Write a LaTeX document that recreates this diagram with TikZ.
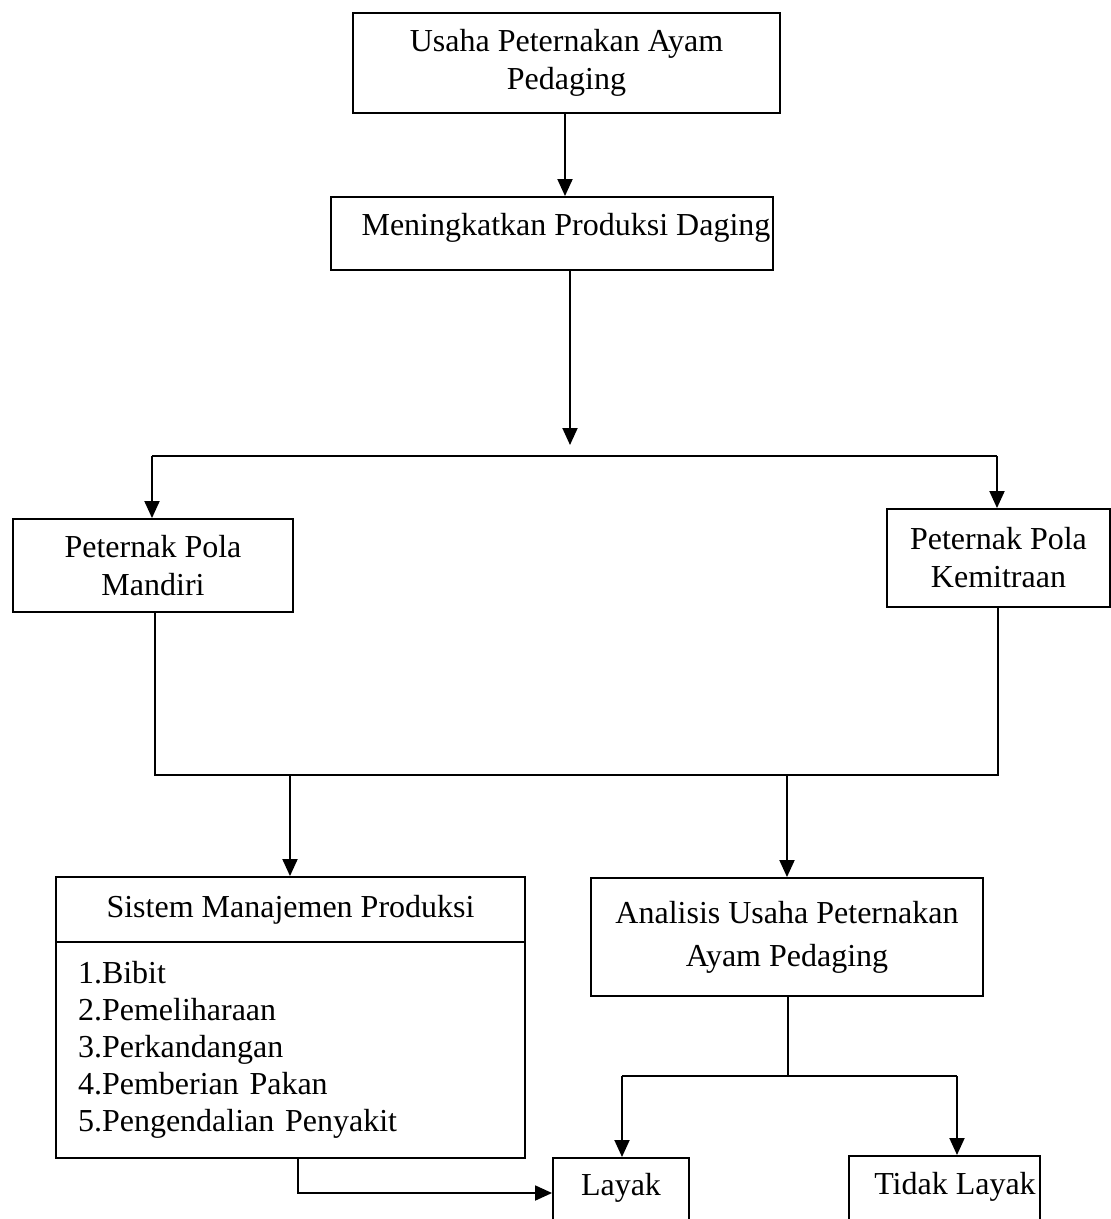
\documentclass[tikz,border=0pt]{standalone}
\usepackage{fontspec}
\setmainfont{Liberation Serif}
\usetikzlibrary{arrows.meta}
\begin{document}
\begin{tikzpicture}[x=1pt,y=-1pt,
  box/.style={draw, line width=1.9pt, inner sep=0pt, align=center,
    font=\fontsize{32}{38}\selectfont},
  txt/.style={inner sep=0pt, font=\fontsize{32}{38}\selectfont},
  ln/.style={line width=1.9pt},
  arr/.style={line width=1.9pt, -{Triangle[length=17pt,width=15pt]}}]
\useasboundingbox (0,0) rectangle (1111,1219);
\clip (0,0) rectangle (1111,1219);

% boxes
\node[box, minimum width=427, minimum height=100] (b1) at (566.5,63)
  {Usaha Peternakan Ayam\\Pedaging};
\node[box, minimum width=442, minimum height=73, text depth=19pt] (b2) at (552,233.5)
  {\hspace*{28pt}Meningkatkan Produksi Daging};
\node[box, minimum width=280, minimum height=93] (mandiri) at (153,565.5)
  {Peternak Pola\\Mandiri};
\node[box, minimum width=223, minimum height=98] (kemitraan) at (998.5,558)
  {Peternak Pola\\Kemitraan};
\node[box, minimum width=469, minimum height=65] (sistem) at (290.5,909.5)
  {Sistem Manajemen Produksi};
\node[box, minimum width=469, minimum height=216, inner xsep=22pt,
  text width=425pt, align=left, font=\fontsize{32}{37}\selectfont] (list) at (290.5,1050)
  {1.Bibit\\2.Pemeliharaan\\3.Perkandangan\\4.Pemberian Pakan\\5.Pengendalian Penyakit};
\node[box, minimum width=392, minimum height=118,
  font=\fontsize{32}{43}\selectfont] (analisis) at (787,937)
  {Analisis Usaha Peternakan\\Ayam Pedaging};
\node[box, minimum width=136, minimum height=120, anchor=north] (layak) at (621,1157) {};
\node[txt] (layakt) at (621,1188) {Layak};
\node[box, minimum width=191, minimum height=120, anchor=north] (tidak) at (944.5,1155) {};
\node[txt] (tidakt) at (955,1187) {Tidak Layak};

% junction coordinates
\coordinate (tipA) at (570,445);
\coordinate (hL) at (152,456);
\coordinate (hR) at (997,456);
\coordinate (mL) at (155,775);
\coordinate (mR) at (998,775);
\coordinate (mS) at (290,775);
\coordinate (mA) at (787,775);
\coordinate (jA) at (788,1076);
\coordinate (jL) at (622,1076);
\coordinate (jR) at (957,1076);
\coordinate (sB) at (298,1193);

% connectors
\draw[arr] (b1.south -| 565,0) -- (b2.north -| 565,0);
\draw[arr] (b2.south -| tipA) -- (tipA);
\draw[ln] (hL) -- (hR);
\draw[arr] (hL) -- (hL |- mandiri.north);
\draw[arr] (hR) -- (hR |- kemitraan.north);
\draw[ln] (mandiri.south -| mL) -- (mL) -- (mR) -- (kemitraan.south -| mR);
\draw[arr] (mS) -- (mS |- sistem.north);
\draw[arr] (mA) -- (mA |- analisis.north);
\draw[ln] (analisis.south -| jA) -- (jA);
\draw[ln] (jL) -- (jR);
\draw[arr] (jL) -- (jL |- layak.north);
\draw[arr] (jR) -- (jR |- tidak.north);
\draw[arr] (list.south -| sB) -- (sB) -- (sB -| layak.west);
\end{tikzpicture}
\end{document}
